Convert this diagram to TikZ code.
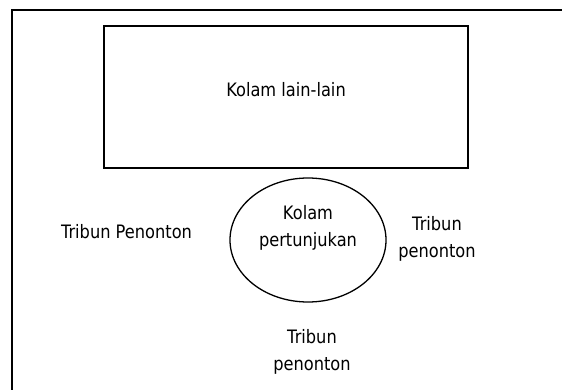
\documentclass[tikz,border=0pt]{standalone}
\usepackage{fontspec}
\newfontfamily\lblfont{DejaVu Sans}[FakeStretch=0.877]
\begin{document}
\begin{tikzpicture}[x=1pt,y=-1pt,
  frame/.style={draw=black,line width=1.6pt},
  lbl/.style={font=\lblfont\fontsize{18.5}{26.5}\selectfont,align=center,anchor=base,inner sep=0pt,text=black}]
\clip (0,0) rectangle (562,390);
\fill[white] (0,0) rectangle (562,390);
% outer frame (only top and left visible)
\coordinate (fbl) at (12,400);
\coordinate (ftl) at (12,10);
\coordinate (ftr) at (580,10);
\draw[frame,line join=miter] (fbl) -- (ftl) -- (ftr);
% other pools
\node[frame,minimum width=364pt,minimum height=142pt,inner sep=0pt] (lain) at (286,97) {};
\node[lbl] (lainT) at (286,97) {Kolam lain-lain};
% show pool
\draw[line width=1.3pt] (308,240) ellipse [x radius=78, y radius=62];
\node[lbl] (show) at (308,246) {Kolam\\pertunjukan};
% stands
\node[lbl] (tl) at (126.5,238) {Tribun Penonton};
\node[lbl] (tr) at (437,257) {Tribun\\penonton};
\node[lbl] (tb) at (312,370) {Tribun\\penonton};
\end{tikzpicture}
\end{document}
